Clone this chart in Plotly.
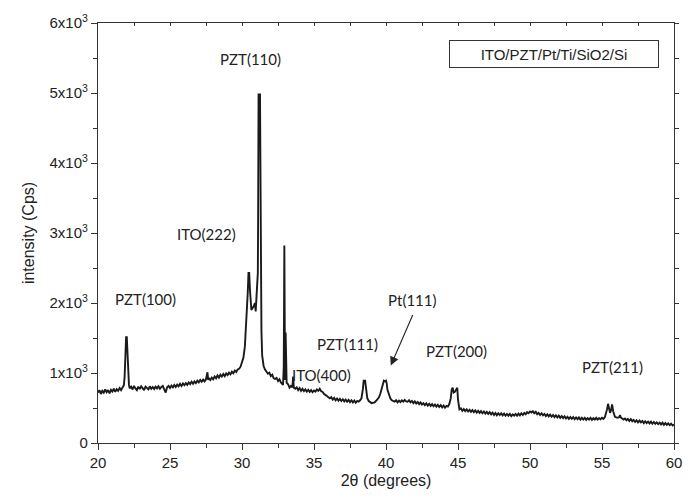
import plotly.graph_objects as go

# ---- data ----
two_theta = [
    20.0, 20.1, 20.2, 20.3, 20.4, 20.5, 20.6, 20.7, 20.8, 20.9, 21.0, 21.1, 21.2, 21.3, 21.4, 21.5, 21.6, 21.7,
    21.8, 21.85, 21.9, 21.95, 22.0, 22.05, 22.1, 22.15, 22.2,
    22.3, 22.4, 22.5, 22.6, 22.7, 22.8, 22.9, 23.0, 23.1, 23.2, 23.3, 23.4, 23.5, 23.6, 23.7,
    23.8, 23.9, 24.0, 24.1, 24.2, 24.3, 24.4, 24.5, 24.6, 24.7, 24.8, 24.9, 25.0, 25.1, 25.2, 25.3,
    25.4, 25.5, 25.6, 25.7, 25.8, 25.9, 26.0, 26.1, 26.2, 26.3, 26.4, 26.5, 26.6, 26.7, 26.8, 26.9,
    27.0, 27.1, 27.2, 27.3, 27.4, 27.5, 27.6, 27.65, 27.7, 27.8, 27.9, 28.0, 28.1, 28.2, 28.3, 28.4,
    28.5, 28.6, 28.7, 28.8, 28.9, 29.0, 29.1, 29.2, 29.3, 29.4, 29.5, 29.6, 29.7, 29.8, 29.9, 30.0,
    30.1, 30.2, 30.3, 30.4, 30.45, 30.5, 30.55, 30.65, 30.8, 30.9, 30.95, 31.0, 31.05, 31.1,
    31.12, 31.15, 31.25, 31.3, 31.35, 31.4, 31.5, 31.6, 31.7, 31.8, 31.9, 32.0, 32.1, 32.2, 32.3,
    32.4, 32.5, 32.6, 32.7, 32.8, 32.85, 32.9, 32.94, 32.98, 33.0, 33.03, 33.06, 33.1, 33.2, 33.3,
    33.4, 33.5, 33.55, 33.6, 33.7, 33.8, 33.9, 34.0, 34.1, 34.2, 34.3, 34.4, 34.5, 34.6, 34.7, 34.8,
    34.9, 35.0, 35.1, 35.2, 35.3, 35.4, 35.5, 35.6, 35.7, 35.8, 35.9, 36.0, 36.1, 36.2, 36.3, 36.4,
    36.5, 36.6, 36.7, 36.8, 36.9, 37.0, 37.1, 37.2, 37.3, 37.4, 37.5, 37.6, 37.7, 37.8, 37.9, 38.0,
    38.1, 38.2, 38.3, 38.4, 38.45, 38.55, 38.6, 38.7, 38.8, 38.9, 39.0, 39.1, 39.2, 39.3, 39.4, 39.5,
    39.6, 39.7, 39.8, 39.85, 39.95, 40.0, 40.05, 40.1, 40.2, 40.3, 40.4, 40.5, 40.6, 40.7, 40.8, 40.9,
    41.0, 41.1, 41.2, 41.3, 41.4, 41.5, 41.6, 41.7, 41.8, 41.9, 42.0, 42.1, 42.2, 42.3, 42.4, 42.5,
    42.6, 42.7, 42.8, 42.9, 43.0, 43.1, 43.2, 43.3, 43.4, 43.5, 43.6, 43.7, 43.8, 43.9, 44.0, 44.1,
    44.2, 44.3, 44.4, 44.5, 44.56, 44.63, 44.7, 44.78, 44.86, 44.95, 45.0, 45.05, 45.1, 45.2, 45.3,
    45.4, 45.5, 45.6, 45.7, 45.8, 45.9, 46.0, 46.1, 46.2, 46.3, 46.4, 46.5, 46.6, 46.7, 46.8, 46.9,
    47.0, 47.1, 47.2, 47.3, 47.4, 47.5, 47.6, 47.7, 47.8, 47.9, 48.0, 48.1, 48.2, 48.3, 48.4, 48.5,
    48.6, 48.7, 48.8, 48.9, 49.0, 49.1, 49.2, 49.3, 49.4, 49.5, 49.6, 49.7, 49.8, 49.9, 50.0, 50.1,
    50.2, 50.3, 50.4, 50.5, 50.6, 50.7, 50.8, 50.9, 51.0, 51.1, 51.2, 51.3, 51.4, 51.5, 51.6, 51.7,
    51.8, 51.9, 52.0, 52.1, 52.2, 52.3, 52.4, 52.5, 52.6, 52.7, 52.8, 52.9, 53.0, 53.1, 53.2, 53.3,
    53.4, 53.5, 53.6, 53.7, 53.8, 53.9, 54.0, 54.1, 54.2, 54.3, 54.4, 54.5, 54.6, 54.7, 54.8, 54.9,
    55.0, 55.1, 55.2, 55.3, 55.35, 55.42, 55.5, 55.56, 55.63, 55.7, 55.78, 55.85, 55.9, 56.0, 56.1,
    56.2, 56.25, 56.3, 56.4, 56.5, 56.6, 56.7, 56.8, 56.9, 57.0, 57.1, 57.2, 57.3, 57.4, 57.5, 57.6,
    57.7, 57.8, 57.9, 58.0, 58.1, 58.2, 58.3, 58.4, 58.5, 58.6, 58.7, 58.8, 58.9, 59.0, 59.1, 59.2,
    59.3, 59.4, 59.5, 59.6, 59.7, 59.8, 59.9, 60.0,
]

intensity = [
    720, 755, 700, 745, 720, 765, 725, 755, 710, 760, 735, 775, 730, 770, 745, 785, 755, 790,
    830, 950, 1300, 1510, 1510, 1300, 950, 830, 780,
    805, 765, 815, 780, 755, 805, 770, 810, 775, 755, 805, 785, 765, 810, 775,
    800, 770, 805, 780, 810, 775, 800, 815, 765, 720, 795, 815, 785, 820, 795, 830,
    800, 835, 810, 845, 815, 850, 825, 855, 830, 865, 840, 875, 845, 880, 855, 890,
    865, 900, 875, 905, 880, 910, 1010, 900, 925, 900, 935, 910, 950, 925, 965, 935,
    975, 950, 985, 955, 995, 970, 1005, 980, 1020, 995, 1035, 1015, 1050, 1060, 1090, 1150,
    1220, 1380, 1700, 2150, 2430, 2430, 2200, 1900, 1950, 2000, 1880, 2150, 2430, 2430,
    3230, 4980, 4980, 3000, 1600, 1250, 1100, 1050, 1020, 990, 1005, 955, 975, 925, 915,
    930, 885, 910, 865, 850, 830, 1100, 2820, 1200, 900, 1580, 900, 860, 840, 790,
    815, 795, 950, 790, 775, 795, 755, 785, 745, 775, 740, 765, 735, 760, 730, 755,
    725, 750, 735, 765, 745, 775, 740, 730, 700, 690, 670, 655, 640, 655, 620, 645,
    610, 635, 605, 630, 600, 625, 595, 620, 590, 615, 585, 610, 580, 605, 575, 600,
    590, 610, 640, 780, 890, 890, 780, 640, 600, 580, 570, 575, 580, 600, 620, 650,
    700, 760, 850, 890, 880, 890, 850, 760, 680, 640, 610, 600, 590, 610, 580, 605,
    585, 610, 590, 615, 595, 590, 610, 580, 600, 570, 595, 565, 585, 555, 580, 550,
    570, 540, 565, 535, 560, 530, 555, 525, 550, 520, 545, 515, 540, 510, 535, 505,
    530, 520, 560, 640, 760, 790, 720, 730, 770, 790, 620, 520, 480, 495, 460,
    485, 455, 480, 450, 475, 445, 470, 440, 465, 435, 460, 430, 455, 425, 450, 420,
    445, 415, 440, 410, 435, 400, 430, 395, 425, 400, 425, 395, 420, 390, 415, 390,
    415, 385, 410, 390, 415, 390, 420, 395, 425, 400, 430, 410, 440, 425, 450, 435,
    455, 425, 445, 410, 430, 400, 425, 395, 415, 385, 410, 380, 405, 375, 400, 370,
    395, 365, 390, 360, 385, 355, 380, 350, 375, 345, 370, 345, 370, 340, 365, 340,
    365, 335, 360, 335, 360, 330, 355, 335, 360, 330, 355, 335, 360, 335, 355, 340,
    360, 345, 370, 430, 480, 560, 470, 430, 470, 550, 450, 390, 375, 365, 360,
    370, 400, 365, 350, 335, 350, 325, 345, 315, 340, 310, 330, 300, 325, 295, 320,
    295, 315, 285, 310, 285, 305, 280, 305, 275, 300, 275, 295, 270, 290, 265, 290,
    260, 285, 260, 280, 255, 275, 250, 265,
]

peak_labels = ["PZT(110)", "ITO(222)", "PZT(100)", "ITO(400)", "PZT(111)", "Pt(111)", "PZT(200)", "PZT(211)"]
label_x = [30.6, 27.5, 23.3, 35.5, 37.3, 41.85, 44.93, 55.76]
label_y = [5490, 2980, 2060, 965, 1420, 2040, 1310, 1090]

y_tick_vals = [0, 1000, 2000, 3000, 4000, 5000, 6000]
y_tick_text = ["0", "1x10<sup>3</sup>", "2x10<sup>3</sup>", "3x10<sup>3</sup>",
               "4x10<sup>3</sup>", "5x10<sup>3</sup>", "6x10<sup>3</sup>"]
x_tick_vals = [20, 25, 30, 35, 40, 45, 50, 55, 60]

sample_name = "ITO/PZT/Pt/Ti/SiO2/Si"

# ---- figure ----
AX = "#333333"
fig = go.Figure()
fig.add_trace(go.Scatter(
    x=two_theta, y=intensity, mode="lines",
    line=dict(color="#1a1a1a", width=1.9),
    showlegend=False, hoverinfo="skip",
))
# invisible trace to host the mirrored tick axes
fig.add_trace(go.Scatter(x=[20, 60], y=[0, 6000], xaxis="x2", yaxis="y2",
                         mode="markers", marker=dict(opacity=0), showlegend=False,
                         hoverinfo="skip"))

for txt, lx, ly in zip(peak_labels, label_x, label_y):
    fig.add_annotation(x=lx, y=ly, text=txt, showarrow=False,
                       font=dict(family="Lato", size=15, color="#222222"))

# arrow pointing to Pt(111)
fig.add_annotation(x=40.33, y=1106, ax=41.9, ay=1850, axref="x", ayref="y",
                   xref="x", yref="y", text="", showarrow=True,
                   arrowhead=2, arrowsize=1.6, arrowwidth=1.1, arrowcolor="#222222")

# sample box
fig.add_annotation(xref="paper", yref="paper", x=0.792, y=0.925, xanchor="center", yanchor="middle",
                   text=sample_name, showarrow=False,
                   font=dict(family="Liberation Sans", size=15, color="#222222"),
                   bordercolor="#333333", borderwidth=1, borderpad=4, width=200, height=18,
                   bgcolor="white")

fig.update_layout(
    width=694, height=500,
    margin=dict(l=98, r=20, t=18, b=57),
    paper_bgcolor="white", plot_bgcolor="white",
    font=dict(family="Liberation Sans", color="#222222"),
    xaxis=dict(range=[20, 60], tickvals=x_tick_vals, showgrid=False, zeroline=False,
               showline=True, linecolor=AX, linewidth=1.3, mirror=True,
               ticks="outside", ticklen=6, tickwidth=1.3, tickcolor=AX,
               minor=dict(ticks="outside", ticklen=4, tickwidth=1.3, tickcolor=AX, dtick=2.5),
               tickfont=dict(size=15, family="Liberation Sans"),
               title=dict(text="2θ (degrees)", font=dict(size=16, family="Liberation Sans"), standoff=4)),
    yaxis=dict(range=[0, 6000], tickvals=y_tick_vals, ticktext=y_tick_text, showgrid=False,
               zeroline=False, showline=True, linecolor=AX, linewidth=1.3, mirror=True,
               ticks="outside", ticklen=6, tickwidth=1.3, tickcolor=AX,
               minor=dict(ticks="outside", ticklen=4, tickwidth=1.3, tickcolor=AX, dtick=500),
               tickfont=dict(size=15, family="Liberation Sans"),
               title=dict(text="intensity (Cps)", font=dict(size=16, family="Liberation Sans"), standoff=10)),
    xaxis2=dict(range=[20, 60], overlaying="x", side="top", anchor="y2", dtick=2.5,
                ticks="inside", ticklen=3, tickwidth=1, tickcolor=AX, showticklabels=False,
                showgrid=False, zeroline=False, showline=False),
    yaxis2=dict(range=[0, 6000], overlaying="y", side="right", anchor="x2", dtick=500,
                ticks="outside", ticklen=4, tickwidth=1, tickcolor=AX, showticklabels=False,
                showgrid=False, zeroline=False, showline=False),
)

fig.write_html("out.html")
